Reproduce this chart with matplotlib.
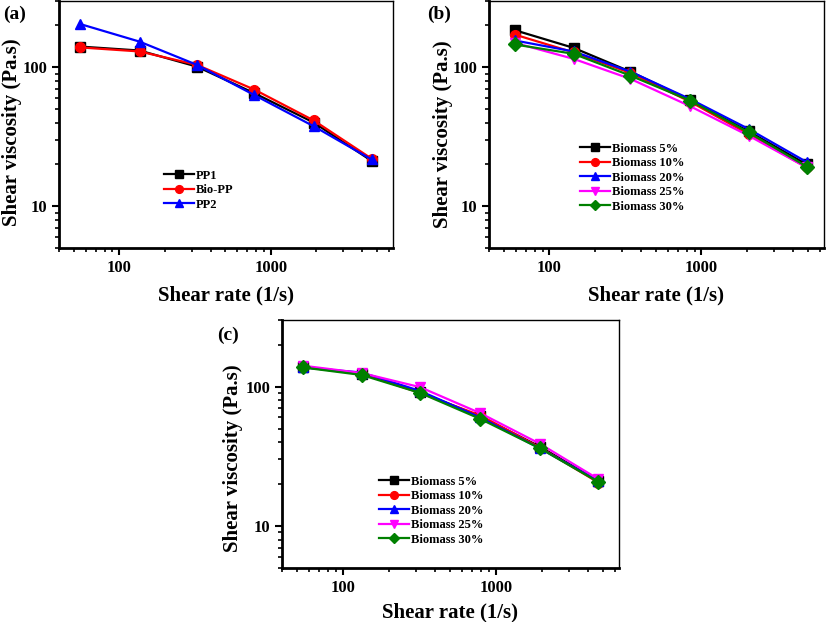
import matplotlib
matplotlib.use("Agg")
import matplotlib.pyplot as plt
from matplotlib.ticker import LogLocator, NullFormatter, FixedLocator, FixedFormatter

plt.rcParams['font.family'] = ['Liberation Serif', 'DejaVu Serif']
plt.rcParams['font.weight'] = 'bold'

# panel (a)
rate_a = [55, 136, 326, 780, 1920, 4620]
pp1 = [141, 132, 101, 65, 40, 21.2]
bio_pp = [139, 130, 104, 69, 41.4, 22]
pp2 = [205, 153, 104, 63, 37.6, 21.7]

# panel (b)
rate_b = [59, 144, 341, 843, 2040, 4920]
b5 = [185, 138, 93, 58, 34.6, 20]
b10 = [172, 128, 91, 56.5, 33, 19]
b20 = [156, 130, 93, 59, 36, 20.8]
b25 = [150, 115, 82.5, 52.4, 32.2, 19]
b30 = [146, 125, 87, 57.6, 34, 19.3]

# panel (c)
rate_c = [55, 133, 320, 793, 1950, 4690]
c5 = [138, 123, 91, 61, 37, 21]
c10 = [139, 124, 90, 62, 36.5, 20.5]
c20 = [137, 126, 93, 60, 36, 21]
c25 = [141, 125, 99, 64.4, 38.8, 21.7]
c30 = [137, 121, 90, 58.6, 36, 20.7]

biomass_labels = ['Biomass 5%', 'Biomass 10%', 'Biomass 20%', 'Biomass 25%', 'Biomass 30%']
styles5 = [('black', 's'), ('red', 'o'), ('blue', '^'), ('magenta', 'v'), ('green', 'D')]

W, H = 827, 622
fig = plt.figure(figsize=(W / 100, H / 100), dpi=100)


def make_axes(l, t, r, b):
    return fig.add_axes([l / W, 1 - b / H, (r - l) / W, (b - t) / H])


def style_axes(ax, ylab_x, ylab_y, xpad):
    ax.set_xscale('log')
    ax.set_yscale('log')
    ax.set_xlim(40, 6400)
    ax.set_ylim(5, 300)
    ax.xaxis.set_major_locator(FixedLocator([100, 1000]))
    ax.xaxis.set_major_formatter(FixedFormatter(['100', '1000']))
    ax.yaxis.set_major_locator(FixedLocator([10, 100]))
    ax.yaxis.set_major_formatter(FixedFormatter(['10', '100']))
    ax.xaxis.set_minor_locator(LogLocator(base=10, subs=range(2, 10)))
    ax.yaxis.set_minor_locator(LogLocator(base=10, subs=range(2, 10)))
    ax.xaxis.set_minor_formatter(NullFormatter())
    ax.yaxis.set_minor_formatter(NullFormatter())
    ax.tick_params(which='major', direction='out', length=5, width=1.5, labelsize=12)
    ax.tick_params(which='minor', direction='out', length=3, width=1.2)
    ax.tick_params(top=False, right=False)
    for s in ['left', 'bottom']:
        ax.spines[s].set_linewidth(2)
    for s in ['top', 'right']:
        ax.spines[s].set_linewidth(1)
    for lab in ax.get_xticklabels() + ax.get_yticklabels():
        lab.set_fontweight('bold')
    ax.set_xlabel('Shear rate (1/s)', fontsize=15, fontweight='bold', labelpad=xpad)
    ax.set_ylabel('Shear viscosity (Pa.s)', fontsize=15, fontweight='bold')
    ax.yaxis.set_label_coords(ylab_x, ylab_y)


def add_legend(ax, x, y):
    ax.legend(loc='upper left', bbox_to_anchor=(x, y), frameon=False,
              prop={'weight': 'bold', 'size': 9}, handlelength=2.4,
              handletextpad=0.15, labelspacing=0.2, borderpad=0,
              markerscale=0.8)


kw = dict(lw=1.6, ms=7)

# (a)
ax1 = make_axes(59, 1, 393, 248)
ax1.plot(rate_a, pp1, color='black', marker='s', label='PP1', **kw)
ax1.plot(rate_a, bio_pp, color='red', marker='o', label='Bio-PP', **kw)
ax1.plot(rate_a, pp2, color='blue', marker='^', label='PP2', **kw)
style_axes(ax1, -0.112, 0.468, 7)
add_legend(ax1, 0.295, 0.342)
fig.text(3 / W, 1 - 14 / H, '(a)', fontsize=14, fontweight='bold', va='center')

# (b)
ax2 = make_axes(489, 1, 824, 248)
series_b = [b5, b10, b20, b25, b30]
for vals, (c, m), lab in zip(series_b, styles5, biomass_labels):
    ax2.plot(rate_b, vals, color=c, marker=m, label=lab, **kw)
style_axes(ax2, -0.107, 0.462, 7)
add_legend(ax2, 0.252, 0.452)
fig.text(427 / W, 1 - 14 / H, '(b)', fontsize=14, fontweight='bold', va='center')

# (c)
ax3 = make_axes(282, 320, 619, 568)
series_c = [c5, c10, c20, c25, c30]
for vals, (c, m), lab in zip(series_c, styles5, biomass_labels):
    ax3.plot(rate_c, vals, color=c, marker=m, label=lab, **kw)
style_axes(ax3, -0.116, 0.444, 4.5)
add_legend(ax3, 0.269, 0.397)
fig.text(217 / W, 1 - 335 / H, '(c)', fontsize=14, fontweight='bold', va='center')

fig.savefig('out.png', dpi=100)
